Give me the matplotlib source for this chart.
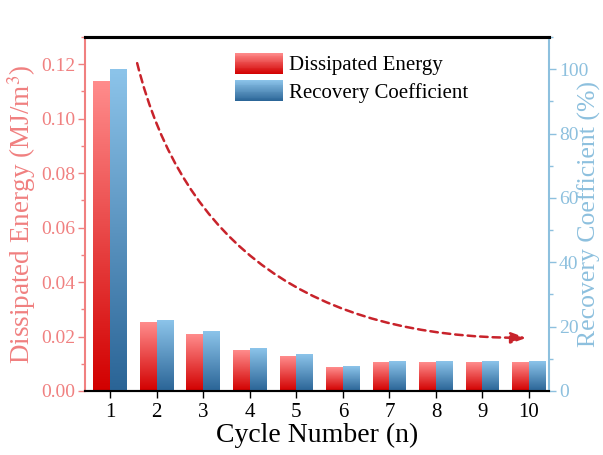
import numpy as np
import matplotlib
matplotlib.use('Agg')
from matplotlib import pyplot as plt
from matplotlib.colors import LinearSegmentedColormap
from matplotlib.legend_handler import HandlerBase
from matplotlib.patches import Rectangle
import matplotlib.ticker as mtick

# data
cycles = np.arange(1, 11)
energy = [0.1135, 0.0250, 0.0206, 0.0148, 0.0128, 0.0088, 0.0106, 0.0106, 0.0106, 0.0106]  # MJ/m^3
recovery = [100.0, 21.8, 18.4, 13.1, 11.2, 7.5, 9.3, 9.3, 9.3, 9.3]  # %

red_col = '#F08080'
blue_col = '#8DC0DE'
red_map = LinearSegmentedColormap.from_list('reds', ['#D20000', '#FF8C8C'])
blue_map = LinearSegmentedColormap.from_list('blues', ['#2A6496', '#8CC4EA'])

plt.rcParams['font.family'] = 'Liberation Serif'
plt.rcParams['mathtext.fontset'] = 'stix'


class GradHandler(HandlerBase):
    def __init__(self, cmap):
        HandlerBase.__init__(self)
        self.cmap = cmap

    def create_artists(self, legend, orig_handle, xdescent, ydescent,
                       width, height, fontsize, trans):
        n = 24
        arts = []
        for i in range(n):
            r = Rectangle((-xdescent, -ydescent + height * i / n), width, height / n * 1.05,
                          facecolor=self.cmap((i + 0.5) / n), edgecolor='none',
                          transform=trans)
            arts.append(r)
        return arts


def shade(ax, bars, cmap):
    grad = np.linspace(0, 1, 128).reshape(-1, 1)
    for b in bars:
        x, y = b.get_xy()
        w, h = b.get_width(), b.get_height()
        ax.imshow(grad, cmap=cmap, extent=[x, x + w, y, y + h], origin='lower',
                  aspect='auto', zorder=2)
        b.set_facecolor('none')


fig = plt.figure(figsize=(6.03, 4.55), dpi=100)
ax = fig.add_axes([0.141, 0.1407, 0.7695, 0.778])
ax2 = ax.twinx()

w = 0.36
b1 = ax.bar(cycles - w / 2, energy, width=w, edgecolor='none')
b2 = ax2.bar(cycles + w / 2, recovery, width=w, edgecolor='none')
shade(ax, b1, red_map)
shade(ax2, b2, blue_map)

ax.set_xlim(0.46, 10.43)
ax.set_ylim(0, 0.13)
ax2.set_ylim(0, 110)

# trend arrow
ax.annotate('', xy=(9.94, 0.0195), xytext=(1.58, 0.1204),
            arrowprops=dict(arrowstyle='-|>,head_length=0.9,head_width=0.33',
                            color='#C8232B', lw=1.8, linestyle=(0, (3, 2)),
                            connectionstyle='angle3,angleA=-76,angleB=0',
                            shrinkA=0, shrinkB=0))

ax.set_xticks(cycles)
ax.yaxis.set_major_locator(mtick.MultipleLocator(0.02))
ax.yaxis.set_minor_locator(mtick.MultipleLocator(0.01))
ax.yaxis.set_major_formatter(mtick.FormatStrFormatter('%.2f'))
ax2.yaxis.set_major_locator(mtick.MultipleLocator(20))
ax2.yaxis.set_minor_locator(mtick.MultipleLocator(10))

ax.tick_params(axis='x', direction='out', length=5, width=1, labelsize=15, pad=4)
ax.tick_params(axis='y', which='major', direction='out', length=5, width=1,
               colors=red_col, labelsize=14, pad=2)
ax.tick_params(axis='y', which='minor', direction='out', length=3, width=1, colors=red_col)
ax2.tick_params(axis='y', which='major', direction='out', length=5, width=1,
                colors=blue_col, labelsize=14, pad=2)
ax2.tick_params(axis='y', which='minor', direction='out', length=3, width=1, colors=blue_col)

ax.set_xlabel('Cycle Number (n)', fontsize=20, labelpad=0)
ax.set_ylabel(r'Dissipated Energy (MJ/m$^3$)', fontsize=19.5, color=red_col)
ax2.set_ylabel('Recovery Coefficient (%)', fontsize=18.5, color=blue_col)
ax.yaxis.set_label_coords(-0.102, 0.5)
ax2.yaxis.set_label_coords(1.062, 0.5)

ax.spines['left'].set_color(red_col)
ax.spines['left'].set_linewidth(1.5)
ax.spines['right'].set_visible(False)
ax2.spines['left'].set_visible(False)
ax2.spines['right'].set_color(blue_col)
ax2.spines['right'].set_linewidth(1.5)
for a in (ax, ax2):
    a.spines['top'].set_linewidth(2.2)
    a.spines['bottom'].set_linewidth(1.5)

p1 = Rectangle((0, 0), 1, 1)
p2 = Rectangle((0, 0), 1, 1)
ax2.legend([p1, p2], ['Dissipated Energy', 'Recovery Coefficient'],
           handler_map={p1: GradHandler(red_map), p2: GradHandler(blue_map)},
           loc='upper left', bbox_to_anchor=(0.323, 0.955), frameon=False,
           fontsize=15, borderpad=0, borderaxespad=0, handlelength=2.3,
           handleheight=1.15, labelspacing=0.24, handletextpad=0.3)

plt.savefig('out.png', dpi=100)
